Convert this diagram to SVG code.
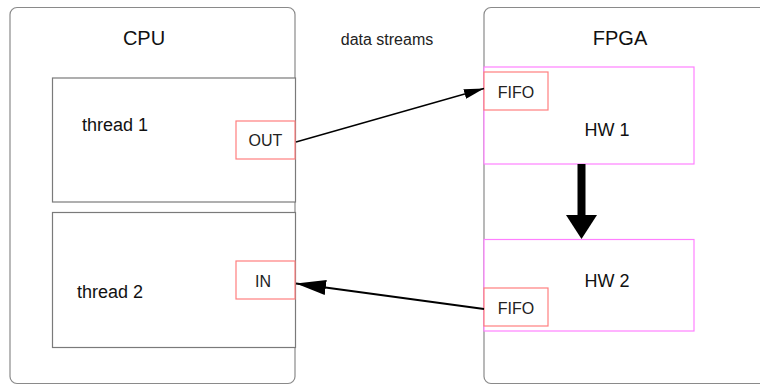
<svg xmlns="http://www.w3.org/2000/svg" width="760" height="385" viewBox="0 0 760 385">
  <defs>
    <style>
      .outer { fill: #ffffff; stroke: #8a8a8a; stroke-width: 1.2; }
      .thread { fill: #ffffff; stroke: #7a7a7a; stroke-width: 1.2; }
      .port { fill: #ffffff; stroke: #ff7f7f; stroke-width: 1.2; }
      .hw { fill: #ffffff; stroke: #ff80ff; stroke-width: 1.2; }
      text { font-family: "Liberation Sans", Arial, Helvetica, sans-serif; fill: #111111; }
      .title { font-size: 20px; text-anchor: middle; }
      .label { font-size: 18px; }
      .small { font-size: 16px; fill: #222222; }
      .link { fill: none; stroke: #000000; }
    </style>
    <marker id="headSmall" markerWidth="20" markerHeight="10" refX="20" refY="5" orient="auto" markerUnits="userSpaceOnUse">
      <path d="M0,0 L20,5 L0,10 Z" fill="#000000"/>
    </marker>
    <marker id="headLarge" markerWidth="30" markerHeight="15" refX="30" refY="7.5" orient="auto" markerUnits="userSpaceOnUse">
      <path d="M0,0 L30,7.5 L0,15 Z" fill="#000000"/>
    </marker>
  </defs>

  <rect width="760" height="385" fill="#ffffff"/>

  <!-- CPU side -->
  <g id="cpu">
    <rect class="outer" x="10" y="7.5" width="285" height="376" rx="7" ry="7"/>
    <text class="title" x="144" y="45">CPU</text>
  </g>
  <g id="thread1">
    <rect class="thread" x="52.5" y="78" width="243" height="124"/>
    <text class="label" x="82" y="131">thread 1</text>
  </g>
  <g id="out-port">
    <rect class="port" x="236" y="121" width="59" height="38"/>
    <text class="small" x="265.5" y="146" text-anchor="middle">OUT</text>
  </g>
  <g id="thread2">
    <rect class="thread" x="52.5" y="212.5" width="243" height="135"/>
    <text class="label" x="77" y="298">thread 2</text>
  </g>
  <g id="in-port">
    <rect class="port" x="236" y="261" width="59" height="38"/>
    <text class="small" x="263" y="287" text-anchor="middle">IN</text>
  </g>

  <text id="streams-label" class="small" x="387" y="45" text-anchor="middle">data streams</text>

  <!-- FPGA side -->
  <g id="fpga">
    <rect class="outer" x="484" y="7.5" width="285" height="376" rx="7" ry="7"/>
    <text class="title" x="620" y="45">FPGA</text>
  </g>
  <g id="hw1">
    <rect class="hw" x="484" y="67" width="210" height="97"/>
    <text class="label" x="607" y="136" text-anchor="middle">HW 1</text>
  </g>
  <g id="fifo1">
    <rect class="port" x="484" y="72" width="64" height="38"/>
    <text class="small" x="516" y="98" text-anchor="middle">FIFO</text>
  </g>
  <g id="hw2">
    <rect class="hw" x="484" y="239.5" width="210" height="91.5"/>
    <text class="label" x="607" y="287" text-anchor="middle">HW 2</text>
  </g>
  <g id="fifo2">
    <rect class="port" x="484" y="288" width="64" height="38"/>
    <text class="small" x="516" y="314" text-anchor="middle">FIFO</text>
  </g>

  <!-- connectors -->
  <g id="connectors">
    <line class="link" x1="296" y1="142" x2="484" y2="88.5" stroke-width="1.3" marker-end="url(#headSmall)"/>
    <line class="link" x1="484" y1="309" x2="296" y2="283.5" stroke-width="2.2" marker-end="url(#headLarge)"/>
    <line class="link" x1="581.5" y1="164" x2="581.5" y2="216" stroke-width="8"/>
    <path d="M566,215 L597,215 L581.5,239 Z" fill="#000000"/>
  </g>
</svg>
